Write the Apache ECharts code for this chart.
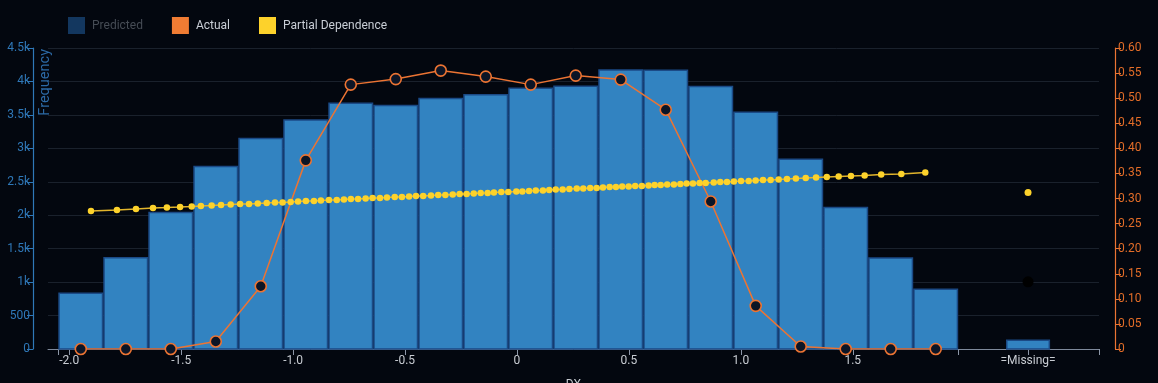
<!DOCTYPE html>
<html>
<head>
<meta charset="utf-8">
<script src="https://cdn.jsdelivr.net/npm/echarts@6/dist/echarts.min.js"></script>
<style>
html,body{margin:0;padding:0;background:#03070f;}
#chart{width:1158px;height:383px;}
</style>
</head>
<body>
<div id="chart"></div>
<script>
// ---- data ----
const binEdges = [-2.049, -1.848, -1.647, -1.446, -1.245, -1.044, -0.843, -0.642, -0.441, -0.240, -0.039,
  0.162, 0.363, 0.564, 0.765, 0.966, 1.167, 1.368, 1.569, 1.770, 1.971];
const freqCounts = [835, 1365, 2040, 2730, 3146, 3425, 3675, 3641, 3746, 3800, 3900, 3930, 4170, 4166, 3926, 3540, 2835, 2115, 1360, 895];
const actualRate = [0, 0, 0, 0.015, 0.125, 0.376, 0.527, 0.538, 0.555, 0.543, 0.527, 0.545, 0.537, 0.477, 0.294, 0.086, 0.005, 0, 0, 0];
const pdX = [-1.903, -1.787, -1.702, -1.626, -1.564, -1.505, -1.453, -1.412, -1.364, -1.322, -1.279, -1.237, -1.197, -1.158, -1.118,
  -1.081, -1.047, -1.011, -0.978, -0.943, -0.907, -0.876, -0.840, -0.805, -0.773, -0.742, -0.710, -0.676, -0.645, -0.612,
  -0.581, -0.546, -0.514, -0.482, -0.451, -0.419, -0.384, -0.352, -0.320, -0.287, -0.256, -0.225, -0.193, -0.162, -0.131,
  -0.103, -0.070, -0.039, -0.003, 0.024, 0.054, 0.084, 0.116, 0.144, 0.173, 0.204, 0.234, 0.267, 0.296, 0.327,
  0.356, 0.384, 0.414, 0.442, 0.470, 0.499, 0.528, 0.558, 0.588, 0.615, 0.642, 0.671, 0.701, 0.730, 0.758,
  0.786, 0.816, 0.843, 0.879, 0.908, 0.938, 0.969, 1.001, 1.035, 1.066, 1.099, 1.133, 1.169, 1.206, 1.246,
  1.290, 1.336, 1.384, 1.437, 1.492, 1.553, 1.627, 1.717, 1.824];
const pdY = [0.275, 0.277, 0.279, 0.281, 0.282, 0.283, 0.284, 0.285, 0.286, 0.287, 0.288, 0.289, 0.289, 0.290, 0.291,
  0.292, 0.292, 0.293, 0.294, 0.295, 0.295, 0.296, 0.297, 0.297, 0.298, 0.299, 0.299, 0.300, 0.301, 0.301,
  0.302, 0.303, 0.303, 0.304, 0.305, 0.305, 0.306, 0.307, 0.307, 0.308, 0.309, 0.309, 0.310, 0.311, 0.311,
  0.312, 0.313, 0.313, 0.314, 0.314, 0.315, 0.316, 0.316, 0.317, 0.318, 0.318, 0.319, 0.320, 0.320, 0.321,
  0.321, 0.322, 0.323, 0.323, 0.324, 0.324, 0.325, 0.325, 0.326, 0.327, 0.327, 0.328, 0.328, 0.329, 0.330,
  0.330, 0.331, 0.331, 0.332, 0.333, 0.333, 0.334, 0.335, 0.335, 0.336, 0.337, 0.337, 0.338, 0.339, 0.340,
  0.341, 0.342, 0.343, 0.344, 0.345, 0.346, 0.348, 0.349, 0.352];
const missingPos = 2.283;          // where the =Missing= group sits on the x axis
const missingBinHalf = 0.0985;
const missingCount = 130;
const missingActual = 0.134;
const missingPD = 0.312;
const xTickLabels = [-2, -1.5, -1, -0.5, 0, 0.5, 1, 1.5];
const missingLabel = '=Missing=';
const xMin = -2.095, xMax = 2.600;

// ---- build ----
const barData = freqCounts.map((c, i) => [binEdges[i], binEdges[i + 1], c]);
barData.push([missingPos - missingBinHalf, missingPos + missingBinHalf, missingCount]);
const actualData = actualRate.map((v, i) => [(binEdges[i] + binEdges[i + 1]) / 2, v]);
const pdData = pdX.map((x, i) => [x, pdY[i]]);

const ORANGE = '#ec7433', YELLOW = '#fdd22b', BLUE_AX = '#2f78b8';
const chart = echarts.init(document.getElementById('chart'), null, {renderer: 'canvas'});
chart.setOption({
  backgroundColor: '#03070f',
  animation: false,
  textStyle: {fontFamily: 'Roboto, "Liberation Sans", sans-serif'},
  legend: {
    left: 63, top: 12, itemWidth: 17, itemHeight: 17, itemGap: 29,
    textStyle: {color: '#c9ced6', fontSize: 12, padding: [0, 0, 0, 2]},
    data: [
      {name: 'Predicted', icon: 'rect', itemStyle: {color: '#13375f'}, textStyle: {color: '#464c55'}},
      {name: 'Actual', icon: 'rect', itemStyle: {color: '#f07c33', borderWidth: 0}},
      {name: 'Partial Dependence', icon: 'rect', itemStyle: {color: YELLOW, borderWidth: 0}}
    ]
  },
  grid: {left: 48, right: 59, top: 48, bottom: 34, containLabel: false, outerBoundsMode: 'none'},
  xAxis: {
    type: 'value', min: xMin, max: xMax,
    name: 'DX', nameLocation: 'middle', nameGap: 30,
    nameTextStyle: {color: '#c8ccd2', fontSize: 12},
    axisLine: {show: true, onZero: false, lineStyle: {color: '#7e899b', width: 1}},
    axisTick: {show: true, length: 6, lineStyle: {color: '#8d97a8'},
      customValues: [binEdges[0]].concat(xTickLabels, [binEdges[binEdges.length - 1], missingPos, xMax])},
    axisLabel: {color: '#c8ccd2', fontSize: 12, margin: 6,
      customValues: xTickLabels.concat([missingPos]),
      formatter: v => Math.abs(v - missingPos) < 1e-6 ? missingLabel : (v === 0 ? '0' : v.toFixed(1))},
    splitLine: {show: false}
  },
  yAxis: [
    {
      type: 'value', min: 0, max: 4500, interval: 500, position: 'left', offset: 15,
      axisLine: {show: true, onZero: false, lineStyle: {color: BLUE_AX, width: 1.2}},
      axisTick: {show: true, length: 6, lineStyle: {color: BLUE_AX}},
      axisLabel: {color: BLUE_AX, fontSize: 12, margin: 3,
        formatter: v => v >= 1000 ? (v / 1000) + 'k' : String(v)},
      splitLine: {show: true, lineStyle: {color: '#1a212c', width: 1}}
    },
    {
      type: 'value', min: 0, max: 0.6, interval: 0.05, position: 'right', offset: 16,
      axisLine: {show: true, onZero: false, lineStyle: {color: ORANGE, width: 1.2}},
      axisTick: {show: true, length: 6, lineStyle: {color: ORANGE}},
      axisLabel: {color: '#e36d28', fontSize: 12, margin: 3,
        formatter: v => v === 0 ? '0' : v.toFixed(2)},
      splitLine: {show: false}
    }
  ],
  graphic: [
    {type: 'text', x: 45, y: 49, rotation: Math.PI / 2, z: 10,
      style: {text: 'Frequency', fill: '#2c6aa6', fontSize: 14.5, align: 'right', verticalAlign: 'middle',
        fontFamily: 'Roboto, "Liberation Sans", sans-serif'}}
  ],
  series: [
    {name: 'Predicted', type: 'line', data: [], color: '#13375f'},
    {
      name: 'Frequency', type: 'custom', yAxisIndex: 0, z: 1,
      encode: {x: [0, 1], y: 2},
      data: barData,
      renderItem: function (params, api) {
        const p0 = api.coord([api.value(0), 0]);
        const p1 = api.coord([api.value(1), api.value(2)]);
        return {
          type: 'rect',
          shape: {x: p0[0] + 0.75, y: p1[1], width: p1[0] - p0[0] - 1.5, height: p0[1] - p1[1]},
          style: {fill: '#3283c1', stroke: '#1b4a86', lineWidth: 1.5}
        };
      }
    },
    {
      name: 'Actual', type: 'line', yAxisIndex: 1, z: 3,
      data: actualData,
      symbol: 'circle', symbolSize: 11, showAllSymbol: true,
      lineStyle: {color: ORANGE, width: 1.5},
      itemStyle: {color: '#0c1526', borderColor: ORANGE, borderWidth: 1.6}
    },
    {
      name: 'ActualMissing', type: 'scatter', yAxisIndex: 1, z: 3,
      data: [[missingPos, missingActual]],
      symbol: 'circle', symbolSize: 11,
      itemStyle: {color: '#000000', opacity: 1}
    },
    {
      name: 'Partial Dependence', type: 'line', yAxisIndex: 1, z: 4,
      data: pdData,
      symbol: 'circle', symbolSize: 6.5, showAllSymbol: true,
      lineStyle: {color: '#e2b52c', width: 1.5},
      itemStyle: {color: YELLOW}
    },
    {
      name: 'Partial Dependence', type: 'scatter', yAxisIndex: 1, z: 4,
      data: [[missingPos, missingPD]],
      symbol: 'circle', symbolSize: 7,
      itemStyle: {color: YELLOW, opacity: 1}
    }
  ]
});
</script>
</body>
</html>
